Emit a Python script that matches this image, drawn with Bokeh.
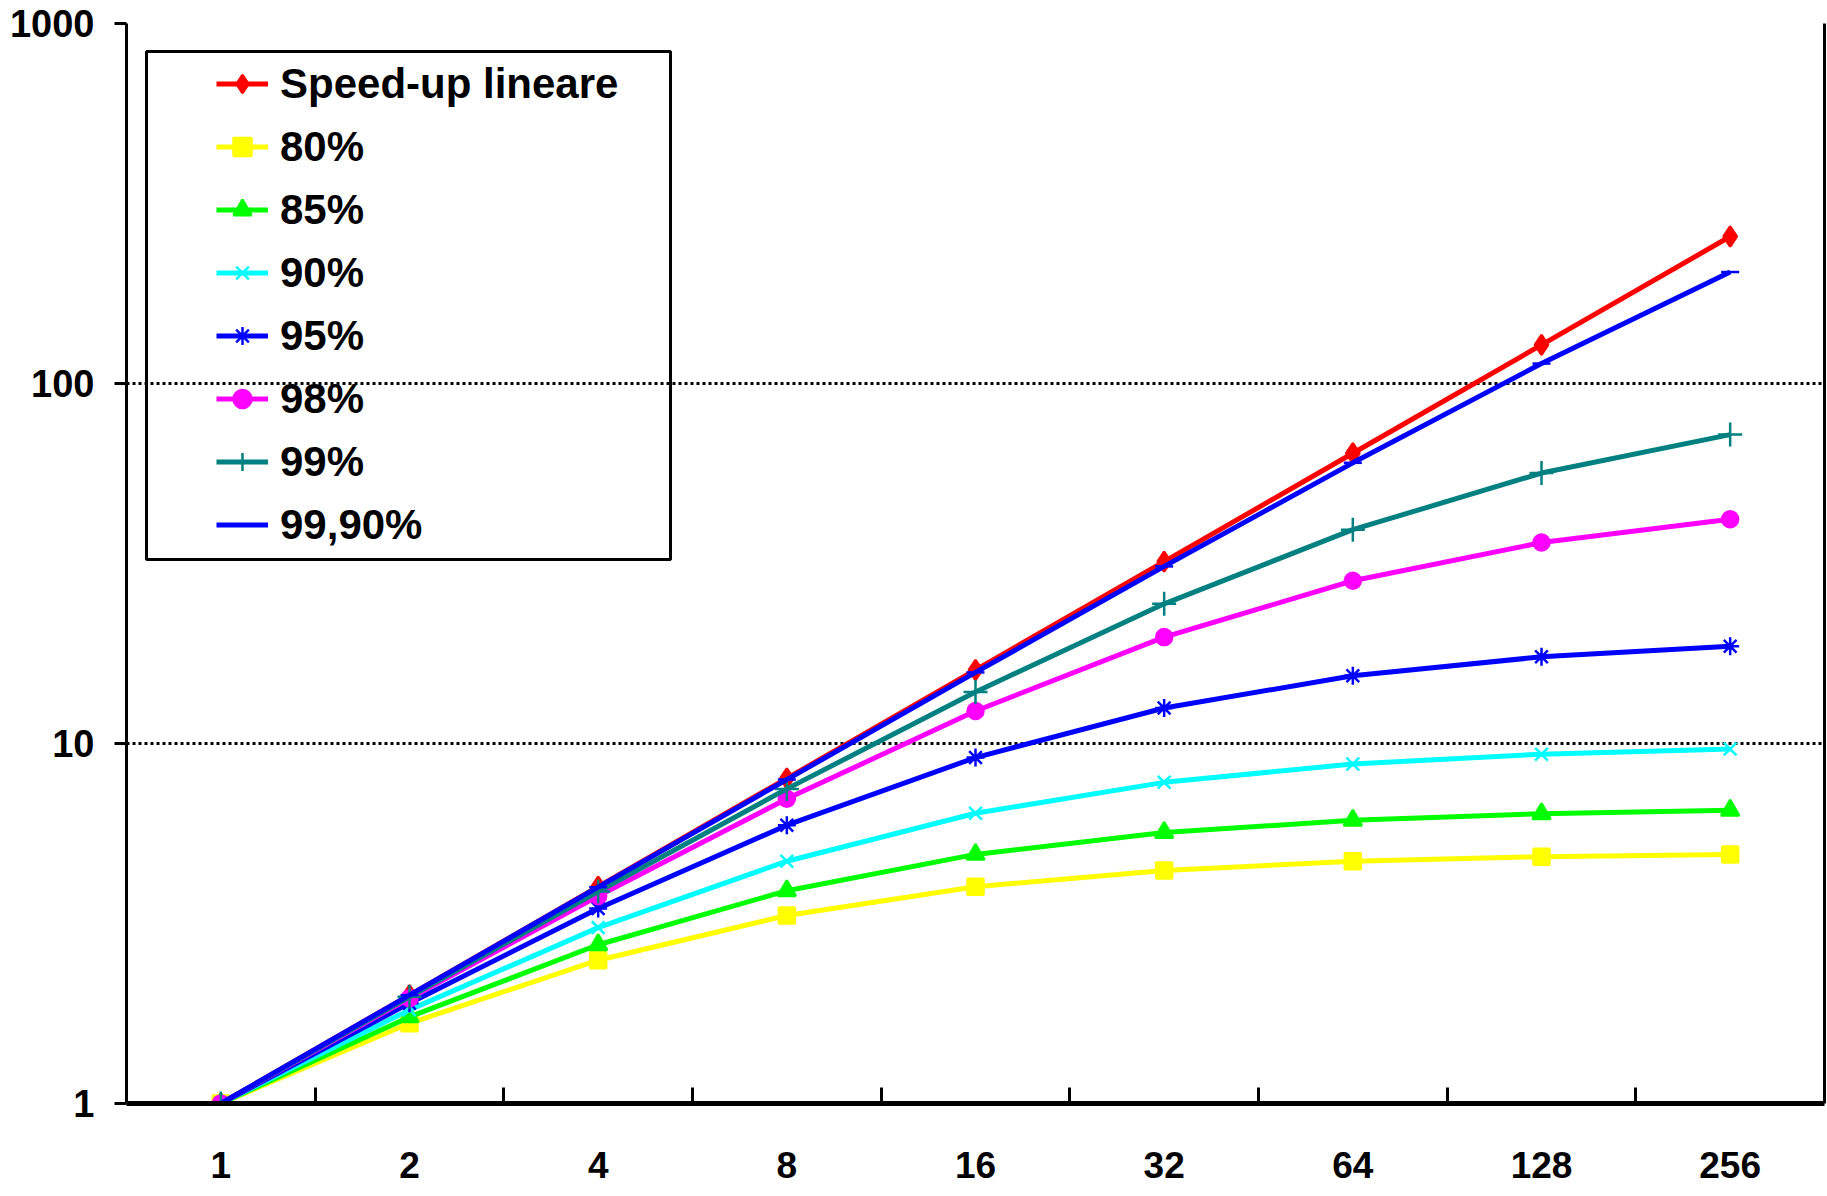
from bokeh.plotting import figure
from bokeh.models import (LinearAxis, LogAxis, FixedTicker, Legend, LegendItem,
                          BoxAnnotation, PrintfTickFormatter)
from bokeh.embed import file_html
from bokeh.resources import INLINE

# ---- data ----
processors = ["1", "2", "4", "8", "16", "32", "64", "128", "256"]
linear = [1, 2, 4, 8, 16, 32, 64, 128, 256]
p80 = [1.0, 1.67, 2.5, 3.33, 4.0, 4.44, 4.71, 4.85, 4.92]
p85 = [1.0, 1.74, 2.76, 3.9, 4.92, 5.66, 6.12, 6.38, 6.52]
p90 = [1.0, 1.82, 3.08, 4.71, 6.4, 7.8, 8.77, 9.34, 9.66]
p95 = [1.0, 1.9, 3.48, 5.93, 9.14, 12.55, 15.42, 17.41, 18.62]
p98 = [1.0, 1.96, 3.77, 7.02, 12.31, 19.75, 28.32, 36.16, 41.97]
p99 = [1.0, 1.98, 3.88, 7.48, 13.91, 24.43, 39.26, 56.39, 72.11]
p999 = [1.0, 2.0, 3.99, 7.94, 15.76, 31.04, 60.21, 113.6, 204.0]
series_names = ["Speed-up lineare", "80%", "85%", "90%", "95%", "98%", "99%", "99,90%"]
y_ticks = [1, 10, 100, 1000]

FONT = "Liberation Sans"
W, H = 1827, 1196
TOP, BOTTOM, LEFT = 23, 93, 126

p = figure(width=W, height=H, x_range=processors, y_range=(1, 1000),
           y_axis_type="log", x_axis_type=None,
           output_backend="svg", toolbar_location=None,
           min_border_left=LEFT, min_border_right=3,
           min_border_top=TOP, min_border_bottom=BOTTOM)
p.outline_line_color = None
p.background_fill_color = "white"

# y axis
yax = p.yaxis[0]
yax.ticker = FixedTicker(ticks=y_ticks)
yax.formatter = PrintfTickFormatter(format="%d")
yax.axis_line_width = 3
yax.major_tick_line_width = 3
yax.major_tick_in = 0
yax.major_tick_out = 12
yax.minor_tick_line_color = None
yax.major_label_standoff = 20
yax.major_label_text_font = FONT
yax.major_label_text_font_style = "bold"
yax.major_label_text_font_size = "38px"
yax.major_label_text_color = "black"

p.ygrid.grid_line_color = "black"
p.ygrid.grid_line_width = 3
p.ygrid.grid_line_dash = "3 3"

# x axis: labels at category centres, tick marks between categories
n = len(processors)
xax = LinearAxis(
    ticker=FixedTicker(ticks=[i + 0.5 for i in range(n)], minor_ticks=list(range(1, n))),
    major_label_overrides={i + 0.5: lab for i, lab in enumerate(processors)},
    major_tick_in=0, major_tick_out=0, major_tick_line_color=None,
    minor_tick_in=16, minor_tick_out=0, minor_tick_line_width=3, minor_tick_line_color="black",
    axis_line_width=5, axis_line_color="black",
    major_label_standoff=48,
    major_label_text_font=FONT, major_label_text_font_style="bold",
    major_label_text_font_size="37px", major_label_text_color="black")
p.add_layout(xax, "below")

# right frame line
rax = LogAxis(ticker=FixedTicker(ticks=[]), axis_line_width=3, axis_line_color="black",
              major_tick_line_color=None, minor_tick_line_color=None,
              major_label_text_font_size="0px", major_label_standoff=0,
              major_tick_in=0, major_tick_out=0)
p.add_layout(rax, "right")

styles = [
    (linear, "#FF0000", "diamond", 20),
    (p80, "#FFFF00", "square", 16),
    (p85, "#00FF00", "triangle", 18),
    (p90, "#00FFFF", "x", 18),
    (p95, "#0000FF", "asterisk", 18),
    (p98, "#FF00FF", "circle", 16),
    (p99, "#008080", "cross", 24),
    (p999, "#0000FF", "dash", 18),
]

items = []
for name, (vals, color, marker, size) in zip(series_names, styles):
    rl = p.line(processors, vals, line_color=color, line_width=5)
    rm = p.scatter(processors, vals, marker=marker, size=size,
                   fill_color=color, line_color=color, line_width=2.5)
    items.append(LegendItem(label=name, renderers=[rl, rm]))

frame_h = H - TOP - BOTTOM
ITEM_H = 63
legend = Legend(items=items, location=(90, frame_h - 29 - ITEM_H * len(items)),
                border_line_color=None, background_fill_alpha=0,
                padding=0, spacing=0, margin=0,
                glyph_width=52, glyph_height=45, label_height=ITEM_H,
                label_standoff=12, label_text_font=FONT, label_text_font_style="bold",
                label_text_font_size="42px", label_text_color="black")
p.add_layout(legend)

box = BoxAnnotation(left=146, right=670, top=51, bottom=559,
                    left_units="canvas", right_units="canvas",
                    top_units="canvas", bottom_units="canvas",
                    fill_alpha=0, line_color="black", line_width=3, line_alpha=1)
p.add_layout(box)

open("out.html", "w").write(file_html(p, INLINE))
